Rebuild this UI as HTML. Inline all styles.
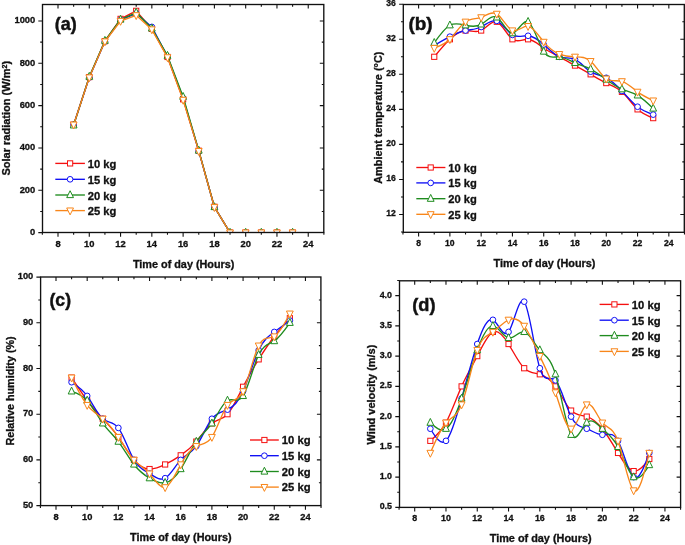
<!DOCTYPE html>
<html><head><meta charset="utf-8"><title>Chart</title><style>html,body{margin:0;padding:0;background:#fff;width:685px;height:545px;overflow:hidden}svg{display:block;will-change:transform}text{font-family:"Liberation Sans",sans-serif;font-weight:bold;stroke:#111;stroke-width:0.3px}</style></head><body>
<svg width="685" height="545" viewBox="0 0 685 545" font-family='"Liberation Sans", sans-serif' font-weight="bold" fill="#111">
<clipPath id="clipa"><rect x="42.5" y="4.5" width="281.3" height="228"/></clipPath>
<g clip-path="url(#clipa)">
<path d="M73.64,124.68 L89.28,77.07 L104.92,41.1 L120.56,18.88 L136.2,10.84 L151.84,28.83 L167.48,56.97 L183.12,99.29 L198.76,150.71 L214.4,206.78 L230.04,232.6 L245.68,232.6 L261.32,232.6 L276.96,232.6 L292.6,232.6" fill="none" stroke="#F51010" stroke-width="1.35" stroke-linejoin="round"/>
<rect x="71.04" y="122.08" width="5.2" height="5.2" fill="#fff" stroke="#F51010" stroke-width="1.0"/>
<rect x="86.68" y="74.47" width="5.2" height="5.2" fill="#fff" stroke="#F51010" stroke-width="1.0"/>
<rect x="102.32" y="38.5" width="5.2" height="5.2" fill="#fff" stroke="#F51010" stroke-width="1.0"/>
<rect x="117.96" y="16.28" width="5.2" height="5.2" fill="#fff" stroke="#F51010" stroke-width="1.0"/>
<rect x="133.6" y="8.24" width="5.2" height="5.2" fill="#fff" stroke="#F51010" stroke-width="1.0"/>
<rect x="149.24" y="26.23" width="5.2" height="5.2" fill="#fff" stroke="#F51010" stroke-width="1.0"/>
<rect x="164.88" y="54.37" width="5.2" height="5.2" fill="#fff" stroke="#F51010" stroke-width="1.0"/>
<rect x="180.52" y="96.69" width="5.2" height="5.2" fill="#fff" stroke="#F51010" stroke-width="1.0"/>
<rect x="196.16" y="148.11" width="5.2" height="5.2" fill="#fff" stroke="#F51010" stroke-width="1.0"/>
<rect x="211.8" y="204.18" width="5.2" height="5.2" fill="#fff" stroke="#F51010" stroke-width="1.0"/>
<rect x="227.44" y="230" width="5.2" height="5.2" fill="#fff" stroke="#F51010" stroke-width="1.0"/>
<rect x="243.08" y="230" width="5.2" height="5.2" fill="#fff" stroke="#F51010" stroke-width="1.0"/>
<rect x="258.72" y="230" width="5.2" height="5.2" fill="#fff" stroke="#F51010" stroke-width="1.0"/>
<rect x="274.36" y="230" width="5.2" height="5.2" fill="#fff" stroke="#F51010" stroke-width="1.0"/>
<rect x="290" y="230" width="5.2" height="5.2" fill="#fff" stroke="#F51010" stroke-width="1.0"/>
<path d="M73.64,124.68 L89.28,77.5 L104.92,41.53 L120.56,19.94 L136.2,13.59 L151.84,26.92 L167.48,56.55 L183.12,98.23 L198.76,151.13 L214.4,207.21 L230.04,232.6 L245.68,232.6 L261.32,232.6 L276.96,232.6 L292.6,232.6" fill="none" stroke="#1010F5" stroke-width="1.35" stroke-linejoin="round"/>
<circle cx="73.64" cy="124.68" r="2.85" fill="#fff" stroke="#1010F5" stroke-width="1.0"/>
<circle cx="89.28" cy="77.5" r="2.85" fill="#fff" stroke="#1010F5" stroke-width="1.0"/>
<circle cx="104.92" cy="41.53" r="2.85" fill="#fff" stroke="#1010F5" stroke-width="1.0"/>
<circle cx="120.56" cy="19.94" r="2.85" fill="#fff" stroke="#1010F5" stroke-width="1.0"/>
<circle cx="136.2" cy="13.59" r="2.85" fill="#fff" stroke="#1010F5" stroke-width="1.0"/>
<circle cx="151.84" cy="26.92" r="2.85" fill="#fff" stroke="#1010F5" stroke-width="1.0"/>
<circle cx="167.48" cy="56.55" r="2.85" fill="#fff" stroke="#1010F5" stroke-width="1.0"/>
<circle cx="183.12" cy="98.23" r="2.85" fill="#fff" stroke="#1010F5" stroke-width="1.0"/>
<circle cx="198.76" cy="151.13" r="2.85" fill="#fff" stroke="#1010F5" stroke-width="1.0"/>
<circle cx="214.4" cy="207.21" r="2.85" fill="#fff" stroke="#1010F5" stroke-width="1.0"/>
<circle cx="230.04" cy="232.6" r="2.85" fill="#fff" stroke="#1010F5" stroke-width="1.0"/>
<circle cx="245.68" cy="232.6" r="2.85" fill="#fff" stroke="#1010F5" stroke-width="1.0"/>
<circle cx="261.32" cy="232.6" r="2.85" fill="#fff" stroke="#1010F5" stroke-width="1.0"/>
<circle cx="276.96" cy="232.6" r="2.85" fill="#fff" stroke="#1010F5" stroke-width="1.0"/>
<circle cx="292.6" cy="232.6" r="2.85" fill="#fff" stroke="#1010F5" stroke-width="1.0"/>
<path d="M73.64,125.32 L89.28,76.65 L104.92,40.68 L120.56,19.52 L136.2,12.54 L151.84,28.41 L167.48,55.7 L183.12,96.75 L198.76,150.5 L214.4,207 L230.04,232.6 L245.68,232.6 L261.32,232.6 L276.96,232.6 L292.6,232.6" fill="none" stroke="#1F8C1F" stroke-width="1.35" stroke-linejoin="round"/>
<polygon points="73.64,121.04 77.04,127.94 70.24,127.94" fill="#fff" stroke="#1F8C1F" stroke-width="1.0" stroke-linejoin="miter"/>
<polygon points="89.28,72.37 92.68,79.27 85.88,79.27" fill="#fff" stroke="#1F8C1F" stroke-width="1.0" stroke-linejoin="miter"/>
<polygon points="104.92,36.4 108.32,43.3 101.52,43.3" fill="#fff" stroke="#1F8C1F" stroke-width="1.0" stroke-linejoin="miter"/>
<polygon points="120.56,15.24 123.96,22.14 117.16,22.14" fill="#fff" stroke="#1F8C1F" stroke-width="1.0" stroke-linejoin="miter"/>
<polygon points="136.2,8.26 139.6,15.16 132.8,15.16" fill="#fff" stroke="#1F8C1F" stroke-width="1.0" stroke-linejoin="miter"/>
<polygon points="151.84,24.13 155.24,31.03 148.44,31.03" fill="#fff" stroke="#1F8C1F" stroke-width="1.0" stroke-linejoin="miter"/>
<polygon points="167.48,51.42 170.88,58.32 164.08,58.32" fill="#fff" stroke="#1F8C1F" stroke-width="1.0" stroke-linejoin="miter"/>
<polygon points="183.12,92.47 186.52,99.37 179.72,99.37" fill="#fff" stroke="#1F8C1F" stroke-width="1.0" stroke-linejoin="miter"/>
<polygon points="198.76,146.22 202.16,153.12 195.36,153.12" fill="#fff" stroke="#1F8C1F" stroke-width="1.0" stroke-linejoin="miter"/>
<polygon points="214.4,202.72 217.8,209.62 211,209.62" fill="#fff" stroke="#1F8C1F" stroke-width="1.0" stroke-linejoin="miter"/>
<polygon points="230.04,228.32 233.44,235.22 226.64,235.22" fill="#fff" stroke="#1F8C1F" stroke-width="1.0" stroke-linejoin="miter"/>
<polygon points="245.68,228.32 249.08,235.22 242.28,235.22" fill="#fff" stroke="#1F8C1F" stroke-width="1.0" stroke-linejoin="miter"/>
<polygon points="261.32,228.32 264.72,235.22 257.92,235.22" fill="#fff" stroke="#1F8C1F" stroke-width="1.0" stroke-linejoin="miter"/>
<polygon points="276.96,228.32 280.36,235.22 273.56,235.22" fill="#fff" stroke="#1F8C1F" stroke-width="1.0" stroke-linejoin="miter"/>
<polygon points="292.6,228.32 296,235.22 289.2,235.22" fill="#fff" stroke="#1F8C1F" stroke-width="1.0" stroke-linejoin="miter"/>
<path d="M73.64,124.68 L89.28,77.5 L104.92,41.53 L120.56,21 L136.2,15.29 L151.84,29.46 L167.48,57.4 L183.12,99.93 L198.76,151.13 L214.4,207.21 L230.04,232.6 L245.68,232.6 L261.32,232.6 L276.96,232.6 L292.6,232.6" fill="none" stroke="#F8861A" stroke-width="1.35" stroke-linejoin="round"/>
<polygon points="73.64,128.96 77.04,122.06 70.24,122.06" fill="#fff" stroke="#F8861A" stroke-width="1.0" stroke-linejoin="miter"/>
<polygon points="89.28,81.78 92.68,74.88 85.88,74.88" fill="#fff" stroke="#F8861A" stroke-width="1.0" stroke-linejoin="miter"/>
<polygon points="104.92,45.8 108.32,38.9 101.52,38.9" fill="#fff" stroke="#F8861A" stroke-width="1.0" stroke-linejoin="miter"/>
<polygon points="120.56,25.28 123.96,18.38 117.16,18.38" fill="#fff" stroke="#F8861A" stroke-width="1.0" stroke-linejoin="miter"/>
<polygon points="136.2,19.56 139.6,12.66 132.8,12.66" fill="#fff" stroke="#F8861A" stroke-width="1.0" stroke-linejoin="miter"/>
<polygon points="151.84,33.74 155.24,26.84 148.44,26.84" fill="#fff" stroke="#F8861A" stroke-width="1.0" stroke-linejoin="miter"/>
<polygon points="167.48,61.67 170.88,54.77 164.08,54.77" fill="#fff" stroke="#F8861A" stroke-width="1.0" stroke-linejoin="miter"/>
<polygon points="183.12,104.2 186.52,97.3 179.72,97.3" fill="#fff" stroke="#F8861A" stroke-width="1.0" stroke-linejoin="miter"/>
<polygon points="198.76,155.41 202.16,148.51 195.36,148.51" fill="#fff" stroke="#F8861A" stroke-width="1.0" stroke-linejoin="miter"/>
<polygon points="214.4,211.49 217.8,204.59 211,204.59" fill="#fff" stroke="#F8861A" stroke-width="1.0" stroke-linejoin="miter"/>
<polygon points="230.04,236.88 233.44,229.98 226.64,229.98" fill="#fff" stroke="#F8861A" stroke-width="1.0" stroke-linejoin="miter"/>
<polygon points="245.68,236.88 249.08,229.98 242.28,229.98" fill="#fff" stroke="#F8861A" stroke-width="1.0" stroke-linejoin="miter"/>
<polygon points="261.32,236.88 264.72,229.98 257.92,229.98" fill="#fff" stroke="#F8861A" stroke-width="1.0" stroke-linejoin="miter"/>
<polygon points="276.96,236.88 280.36,229.98 273.56,229.98" fill="#fff" stroke="#F8861A" stroke-width="1.0" stroke-linejoin="miter"/>
<polygon points="292.6,236.88 296,229.98 289.2,229.98" fill="#fff" stroke="#F8861A" stroke-width="1.0" stroke-linejoin="miter"/>
</g>
<rect x="42.5" y="4.5" width="281.3" height="228" fill="none" stroke="#111" stroke-width="1.35"/>
<path d="M42.36,232.5 v2.3 M58,232.5 v4.2 M58,4.5 v4 M73.64,232.5 v2.3 M73.64,4.5 v2.2 M89.28,232.5 v4.2 M89.28,4.5 v4 M104.92,232.5 v2.3 M104.92,4.5 v2.2 M120.56,232.5 v4.2 M120.56,4.5 v4 M136.2,232.5 v2.3 M136.2,4.5 v2.2 M151.84,232.5 v4.2 M151.84,4.5 v4 M167.48,232.5 v2.3 M167.48,4.5 v2.2 M183.12,232.5 v4.2 M183.12,4.5 v4 M198.76,232.5 v2.3 M198.76,4.5 v2.2 M214.4,232.5 v4.2 M214.4,4.5 v4 M230.04,232.5 v2.3 M230.04,4.5 v2.2 M245.68,232.5 v4.2 M245.68,4.5 v4 M261.32,232.5 v2.3 M261.32,4.5 v2.2 M276.96,232.5 v4.2 M276.96,4.5 v4 M292.6,232.5 v2.3 M292.6,4.5 v2.2 M308.24,232.5 v4.2 M308.24,4.5 v4 M323.88,232.5 v2.3 M42.5,232.6 h-4.2 M42.5,211.44 h-2.3 M323.8,211.44 h-2 M42.5,190.28 h-4.2 M323.8,190.28 h-4 M42.5,169.12 h-2.3 M323.8,169.12 h-2 M42.5,147.96 h-4.2 M323.8,147.96 h-4 M42.5,126.8 h-2.3 M323.8,126.8 h-2 M42.5,105.64 h-4.2 M323.8,105.64 h-4 M42.5,84.48 h-2.3 M323.8,84.48 h-2 M42.5,63.32 h-4.2 M323.8,63.32 h-4 M42.5,42.16 h-2.3 M323.8,42.16 h-2 M42.5,21 h-4.2 M323.8,21 h-4" stroke="#111" stroke-width="1.1" fill="none"/>
<text x="58" y="246.6" font-size="9.4" text-anchor="middle">8</text>
<text x="89.28" y="246.6" font-size="9.4" text-anchor="middle">10</text>
<text x="120.56" y="246.6" font-size="9.4" text-anchor="middle">12</text>
<text x="151.84" y="246.6" font-size="9.4" text-anchor="middle">14</text>
<text x="183.12" y="246.6" font-size="9.4" text-anchor="middle">16</text>
<text x="214.4" y="246.6" font-size="9.4" text-anchor="middle">18</text>
<text x="245.68" y="246.6" font-size="9.4" text-anchor="middle">20</text>
<text x="276.96" y="246.6" font-size="9.4" text-anchor="middle">22</text>
<text x="308.24" y="246.6" font-size="9.4" text-anchor="middle">24</text>
<text x="35.3" y="234.84" font-size="9.4" text-anchor="end">0</text>
<text x="35.3" y="192.52" font-size="9.4" text-anchor="end">200</text>
<text x="35.3" y="150.2" font-size="9.4" text-anchor="end">400</text>
<text x="35.3" y="107.88" font-size="9.4" text-anchor="end">600</text>
<text x="35.3" y="65.56" font-size="9.4" text-anchor="end">800</text>
<text x="35.3" y="23.24" font-size="9.4" text-anchor="end">1000</text>
<text x="132.9" y="267.5" font-size="10.1" textLength="101.6" lengthAdjust="spacingAndGlyphs">Time of day (Hours)</text>
<text transform="translate(10.1,174.9) rotate(-90)" x="-0.6" y="0" font-size="10.8" textLength="114.6" lengthAdjust="spacingAndGlyphs">Solar radiation (W/m<tspan dy="-3.5" font-size="7">2</tspan><tspan dy="3.5">)</tspan></text>
<text x="54.8" y="30" font-size="18.2" style="stroke-width:0.45px" textLength="22" lengthAdjust="spacingAndGlyphs">(a)</text>
<path d="M55.3,163.4 H84.9" stroke="#F51010" stroke-width="1.35"/>
<rect x="67.5" y="160.8" width="5.2" height="5.2" fill="#fff" stroke="#F51010" stroke-width="1.0"/>
<text x="87.8" y="167.9" font-size="10.8" textLength="28.6" lengthAdjust="spacingAndGlyphs">10 kg</text>
<path d="M55.3,179.3 H84.9" stroke="#1010F5" stroke-width="1.35"/>
<circle cx="70.1" cy="179.3" r="2.85" fill="#fff" stroke="#1010F5" stroke-width="1.0"/>
<text x="87.8" y="183.8" font-size="10.8" textLength="28.6" lengthAdjust="spacingAndGlyphs">15 kg</text>
<path d="M55.3,195 H84.9" stroke="#1F8C1F" stroke-width="1.35"/>
<polygon points="70.1,190.72 73.5,197.62 66.7,197.62" fill="#fff" stroke="#1F8C1F" stroke-width="1.0" stroke-linejoin="miter"/>
<text x="87.8" y="199.5" font-size="10.8" textLength="28.6" lengthAdjust="spacingAndGlyphs">20 kg</text>
<path d="M55.3,210.6 H84.9" stroke="#F8861A" stroke-width="1.35"/>
<polygon points="70.1,214.88 73.5,207.98 66.7,207.98" fill="#fff" stroke="#F8861A" stroke-width="1.0" stroke-linejoin="miter"/>
<text x="87.8" y="215.1" font-size="10.8" textLength="28.6" lengthAdjust="spacingAndGlyphs">25 kg</text>
<clipPath id="clipb"><rect x="403.3" y="4.5" width="281" height="227.8"/></clipPath>
<g clip-path="url(#clipb)">
<path d="M434.24,56.8 C439.45,50.5 444.67,44.2 449.88,39.28 C455.09,34.36 460.31,30.84 465.52,30.52 C470.73,30.2 475.95,33.1 481.16,30.52 C486.37,27.94 491.59,19.88 496.8,21.76 C502.01,23.64 507.23,35.45 512.44,39.28 C517.65,43.11 522.87,38.95 528.08,39.28 C533.29,39.61 538.51,44.43 543.72,48.04 C548.93,51.65 554.15,54.06 559.36,56.8 C564.57,59.54 569.79,62.63 575,65.56 C580.21,68.49 585.43,71.28 590.64,74.32 C595.85,77.36 601.07,80.64 606.28,83.08 C611.49,85.52 616.71,87.11 621.92,91.84 C627.13,96.57 632.35,104.46 637.56,109.36 C642.77,114.26 647.99,116.19 653.2,118.12" fill="none" stroke="#F51010" stroke-width="1.35" stroke-linejoin="round"/>
<rect x="431.64" y="54.2" width="5.2" height="5.2" fill="#fff" stroke="#F51010" stroke-width="1.0"/>
<rect x="447.28" y="36.68" width="5.2" height="5.2" fill="#fff" stroke="#F51010" stroke-width="1.0"/>
<rect x="462.92" y="27.92" width="5.2" height="5.2" fill="#fff" stroke="#F51010" stroke-width="1.0"/>
<rect x="478.56" y="27.92" width="5.2" height="5.2" fill="#fff" stroke="#F51010" stroke-width="1.0"/>
<rect x="494.2" y="19.16" width="5.2" height="5.2" fill="#fff" stroke="#F51010" stroke-width="1.0"/>
<rect x="509.84" y="36.68" width="5.2" height="5.2" fill="#fff" stroke="#F51010" stroke-width="1.0"/>
<rect x="525.48" y="36.68" width="5.2" height="5.2" fill="#fff" stroke="#F51010" stroke-width="1.0"/>
<rect x="541.12" y="45.44" width="5.2" height="5.2" fill="#fff" stroke="#F51010" stroke-width="1.0"/>
<rect x="556.76" y="54.2" width="5.2" height="5.2" fill="#fff" stroke="#F51010" stroke-width="1.0"/>
<rect x="572.4" y="62.96" width="5.2" height="5.2" fill="#fff" stroke="#F51010" stroke-width="1.0"/>
<rect x="588.04" y="71.72" width="5.2" height="5.2" fill="#fff" stroke="#F51010" stroke-width="1.0"/>
<rect x="603.68" y="80.48" width="5.2" height="5.2" fill="#fff" stroke="#F51010" stroke-width="1.0"/>
<rect x="619.32" y="89.24" width="5.2" height="5.2" fill="#fff" stroke="#F51010" stroke-width="1.0"/>
<rect x="634.96" y="106.76" width="5.2" height="5.2" fill="#fff" stroke="#F51010" stroke-width="1.0"/>
<rect x="650.6" y="115.52" width="5.2" height="5.2" fill="#fff" stroke="#F51010" stroke-width="1.0"/>
<path d="M434.24,45.41 C439.45,42.38 444.67,39.34 449.88,36.65 C455.09,33.96 460.31,31.61 465.52,30.52 C470.73,29.43 475.95,29.61 481.16,27.02 C486.37,24.42 491.59,19.05 496.8,20.88 C502.01,22.72 507.23,31.75 512.44,34.9 C517.65,38.05 522.87,35.32 528.08,35.78 C533.29,36.23 538.51,39.89 543.72,44.54 C548.93,49.19 554.15,54.84 559.36,56.8 C564.57,58.76 569.79,57.03 575,59.43 C580.21,61.82 585.43,68.34 590.64,71.69 C595.85,75.05 601.07,75.24 606.28,77.82 C611.49,80.41 616.71,85.39 621.92,90.96 C627.13,96.53 632.35,102.69 637.56,106.73 C642.77,110.77 647.99,112.69 653.2,114.62" fill="none" stroke="#1010F5" stroke-width="1.35" stroke-linejoin="round"/>
<circle cx="434.24" cy="45.41" r="2.85" fill="#fff" stroke="#1010F5" stroke-width="1.0"/>
<circle cx="449.88" cy="36.65" r="2.85" fill="#fff" stroke="#1010F5" stroke-width="1.0"/>
<circle cx="465.52" cy="30.52" r="2.85" fill="#fff" stroke="#1010F5" stroke-width="1.0"/>
<circle cx="481.16" cy="27.02" r="2.85" fill="#fff" stroke="#1010F5" stroke-width="1.0"/>
<circle cx="496.8" cy="20.88" r="2.85" fill="#fff" stroke="#1010F5" stroke-width="1.0"/>
<circle cx="512.44" cy="34.9" r="2.85" fill="#fff" stroke="#1010F5" stroke-width="1.0"/>
<circle cx="528.08" cy="35.78" r="2.85" fill="#fff" stroke="#1010F5" stroke-width="1.0"/>
<circle cx="543.72" cy="44.54" r="2.85" fill="#fff" stroke="#1010F5" stroke-width="1.0"/>
<circle cx="559.36" cy="56.8" r="2.85" fill="#fff" stroke="#1010F5" stroke-width="1.0"/>
<circle cx="575" cy="59.43" r="2.85" fill="#fff" stroke="#1010F5" stroke-width="1.0"/>
<circle cx="590.64" cy="71.69" r="2.85" fill="#fff" stroke="#1010F5" stroke-width="1.0"/>
<circle cx="606.28" cy="77.82" r="2.85" fill="#fff" stroke="#1010F5" stroke-width="1.0"/>
<circle cx="621.92" cy="90.96" r="2.85" fill="#fff" stroke="#1010F5" stroke-width="1.0"/>
<circle cx="637.56" cy="106.73" r="2.85" fill="#fff" stroke="#1010F5" stroke-width="1.0"/>
<circle cx="653.2" cy="114.62" r="2.85" fill="#fff" stroke="#1010F5" stroke-width="1.0"/>
<path d="M434.24,42.78 C439.45,35.46 444.67,28.13 449.88,25.26 C455.09,22.4 460.31,24.01 465.52,25.26 C470.73,26.52 475.95,27.43 481.16,24.39 C486.37,21.34 491.59,14.35 496.8,17.38 C502.01,20.41 507.23,33.48 512.44,33.15 C517.65,32.82 522.87,19.08 528.08,21.76 C533.29,24.44 538.51,43.52 543.72,51.54 C548.93,59.57 554.15,56.55 559.36,56.8 C564.57,57.05 569.79,60.58 575,62.93 C580.21,65.28 585.43,66.45 590.64,69.06 C595.85,71.68 601.07,75.75 606.28,79.58 C611.49,83.4 616.71,86.97 621.92,89.21 C627.13,91.45 632.35,92.35 637.56,95.34 C642.77,98.33 647.99,103.41 653.2,108.48" fill="none" stroke="#1F8C1F" stroke-width="1.35" stroke-linejoin="round"/>
<polygon points="434.24,38.51 437.64,45.41 430.84,45.41" fill="#fff" stroke="#1F8C1F" stroke-width="1.0" stroke-linejoin="miter"/>
<polygon points="449.88,20.99 453.28,27.89 446.48,27.89" fill="#fff" stroke="#1F8C1F" stroke-width="1.0" stroke-linejoin="miter"/>
<polygon points="465.52,20.99 468.92,27.89 462.12,27.89" fill="#fff" stroke="#1F8C1F" stroke-width="1.0" stroke-linejoin="miter"/>
<polygon points="481.16,20.11 484.56,27.01 477.76,27.01" fill="#fff" stroke="#1F8C1F" stroke-width="1.0" stroke-linejoin="miter"/>
<polygon points="496.8,13.1 500.2,20 493.4,20" fill="#fff" stroke="#1F8C1F" stroke-width="1.0" stroke-linejoin="miter"/>
<polygon points="512.44,28.87 515.84,35.77 509.04,35.77" fill="#fff" stroke="#1F8C1F" stroke-width="1.0" stroke-linejoin="miter"/>
<polygon points="528.08,17.48 531.48,24.38 524.68,24.38" fill="#fff" stroke="#1F8C1F" stroke-width="1.0" stroke-linejoin="miter"/>
<polygon points="543.72,47.27 547.12,54.17 540.32,54.17" fill="#fff" stroke="#1F8C1F" stroke-width="1.0" stroke-linejoin="miter"/>
<polygon points="559.36,52.52 562.76,59.42 555.96,59.42" fill="#fff" stroke="#1F8C1F" stroke-width="1.0" stroke-linejoin="miter"/>
<polygon points="575,58.65 578.4,65.55 571.6,65.55" fill="#fff" stroke="#1F8C1F" stroke-width="1.0" stroke-linejoin="miter"/>
<polygon points="590.64,64.79 594.04,71.69 587.24,71.69" fill="#fff" stroke="#1F8C1F" stroke-width="1.0" stroke-linejoin="miter"/>
<polygon points="606.28,75.3 609.68,82.2 602.88,82.2" fill="#fff" stroke="#1F8C1F" stroke-width="1.0" stroke-linejoin="miter"/>
<polygon points="621.92,84.93 625.32,91.83 618.52,91.83" fill="#fff" stroke="#1F8C1F" stroke-width="1.0" stroke-linejoin="miter"/>
<polygon points="637.56,91.07 640.96,97.97 634.16,97.97" fill="#fff" stroke="#1F8C1F" stroke-width="1.0" stroke-linejoin="miter"/>
<polygon points="653.2,104.21 656.6,111.11 649.8,111.11" fill="#fff" stroke="#1F8C1F" stroke-width="1.0" stroke-linejoin="miter"/>
<path d="M434.24,48.04 C439.45,46.26 444.67,44.48 449.88,39.28 C455.09,34.08 460.31,25.47 465.52,21.76 C470.73,18.05 475.95,19.23 481.16,17.38 C486.37,15.53 491.59,10.65 496.8,13.88 C502.01,17.11 507.23,28.45 512.44,30.52 C517.65,32.59 522.87,25.38 528.08,26.14 C533.29,26.9 538.51,35.62 543.72,41.91 C548.93,48.19 554.15,52.04 559.36,54.17 C564.57,56.3 569.79,56.72 575,56.8 C580.21,56.88 585.43,56.61 590.64,61.18 C595.85,65.75 601.07,75.17 606.28,78.7 C611.49,82.23 616.71,79.89 621.92,81.33 C627.13,82.77 632.35,88 637.56,91.84 C642.77,95.68 647.99,98.14 653.2,100.6" fill="none" stroke="#F8861A" stroke-width="1.35" stroke-linejoin="round"/>
<polygon points="434.24,52.32 437.64,45.42 430.84,45.42" fill="#fff" stroke="#F8861A" stroke-width="1.0" stroke-linejoin="miter"/>
<polygon points="449.88,43.56 453.28,36.66 446.48,36.66" fill="#fff" stroke="#F8861A" stroke-width="1.0" stroke-linejoin="miter"/>
<polygon points="465.52,26.04 468.92,19.14 462.12,19.14" fill="#fff" stroke="#F8861A" stroke-width="1.0" stroke-linejoin="miter"/>
<polygon points="481.16,21.66 484.56,14.76 477.76,14.76" fill="#fff" stroke="#F8861A" stroke-width="1.0" stroke-linejoin="miter"/>
<polygon points="496.8,18.15 500.2,11.25 493.4,11.25" fill="#fff" stroke="#F8861A" stroke-width="1.0" stroke-linejoin="miter"/>
<polygon points="512.44,34.8 515.84,27.9 509.04,27.9" fill="#fff" stroke="#F8861A" stroke-width="1.0" stroke-linejoin="miter"/>
<polygon points="528.08,30.42 531.48,23.52 524.68,23.52" fill="#fff" stroke="#F8861A" stroke-width="1.0" stroke-linejoin="miter"/>
<polygon points="543.72,46.19 547.12,39.29 540.32,39.29" fill="#fff" stroke="#F8861A" stroke-width="1.0" stroke-linejoin="miter"/>
<polygon points="559.36,58.45 562.76,51.55 555.96,51.55" fill="#fff" stroke="#F8861A" stroke-width="1.0" stroke-linejoin="miter"/>
<polygon points="575,61.08 578.4,54.18 571.6,54.18" fill="#fff" stroke="#F8861A" stroke-width="1.0" stroke-linejoin="miter"/>
<polygon points="590.64,65.46 594.04,58.56 587.24,58.56" fill="#fff" stroke="#F8861A" stroke-width="1.0" stroke-linejoin="miter"/>
<polygon points="606.28,82.98 609.68,76.08 602.88,76.08" fill="#fff" stroke="#F8861A" stroke-width="1.0" stroke-linejoin="miter"/>
<polygon points="621.92,85.61 625.32,78.71 618.52,78.71" fill="#fff" stroke="#F8861A" stroke-width="1.0" stroke-linejoin="miter"/>
<polygon points="637.56,96.12 640.96,89.22 634.16,89.22" fill="#fff" stroke="#F8861A" stroke-width="1.0" stroke-linejoin="miter"/>
<polygon points="653.2,104.88 656.6,97.98 649.8,97.98" fill="#fff" stroke="#F8861A" stroke-width="1.0" stroke-linejoin="miter"/>
</g>
<rect x="403.3" y="4.5" width="281" height="227.8" fill="none" stroke="#111" stroke-width="1.35"/>
<path d="M402.96,232.3 v2.3 M418.6,232.3 v4.2 M418.6,4.5 v4 M434.24,232.3 v2.3 M434.24,4.5 v2.2 M449.88,232.3 v4.2 M449.88,4.5 v4 M465.52,232.3 v2.3 M465.52,4.5 v2.2 M481.16,232.3 v4.2 M481.16,4.5 v4 M496.8,232.3 v2.3 M496.8,4.5 v2.2 M512.44,232.3 v4.2 M512.44,4.5 v4 M528.08,232.3 v2.3 M528.08,4.5 v2.2 M543.72,232.3 v4.2 M543.72,4.5 v4 M559.36,232.3 v2.3 M559.36,4.5 v2.2 M575,232.3 v4.2 M575,4.5 v4 M590.64,232.3 v2.3 M590.64,4.5 v2.2 M606.28,232.3 v4.2 M606.28,4.5 v4 M621.92,232.3 v2.3 M621.92,4.5 v2.2 M637.56,232.3 v4.2 M637.56,4.5 v4 M653.2,232.3 v2.3 M653.2,4.5 v2.2 M668.84,232.3 v4.2 M668.84,4.5 v4 M684.48,232.3 v2.3 M403.3,232 h-2.3 M403.3,214.48 h-4.2 M684.3,214.48 h-4 M403.3,196.96 h-2.3 M684.3,196.96 h-2 M403.3,179.44 h-4.2 M684.3,179.44 h-4 M403.3,161.92 h-2.3 M684.3,161.92 h-2 M403.3,144.4 h-4.2 M684.3,144.4 h-4 M403.3,126.88 h-2.3 M684.3,126.88 h-2 M403.3,109.36 h-4.2 M684.3,109.36 h-4 M403.3,91.84 h-2.3 M684.3,91.84 h-2 M403.3,74.32 h-4.2 M684.3,74.32 h-4 M403.3,56.8 h-2.3 M684.3,56.8 h-2 M403.3,39.28 h-4.2 M684.3,39.28 h-4 M403.3,21.76 h-2.3 M684.3,21.76 h-2 M403.3,4.24 h-4.2" stroke="#111" stroke-width="1.1" fill="none"/>
<text x="418.6" y="246" font-size="8.6" text-anchor="middle">8</text>
<text x="449.88" y="246" font-size="8.6" text-anchor="middle">10</text>
<text x="481.16" y="246" font-size="8.6" text-anchor="middle">12</text>
<text x="512.44" y="246" font-size="8.6" text-anchor="middle">14</text>
<text x="543.72" y="246" font-size="8.6" text-anchor="middle">16</text>
<text x="575" y="246" font-size="8.6" text-anchor="middle">18</text>
<text x="606.28" y="246" font-size="8.6" text-anchor="middle">20</text>
<text x="637.56" y="246" font-size="8.6" text-anchor="middle">22</text>
<text x="668.84" y="246" font-size="8.6" text-anchor="middle">24</text>
<text x="395.8" y="216.43" font-size="8.6" text-anchor="end">12</text>
<text x="395.8" y="181.39" font-size="8.6" text-anchor="end">16</text>
<text x="395.8" y="146.35" font-size="8.6" text-anchor="end">20</text>
<text x="395.8" y="111.31" font-size="8.6" text-anchor="end">24</text>
<text x="395.8" y="76.27" font-size="8.6" text-anchor="end">28</text>
<text x="395.8" y="41.23" font-size="8.6" text-anchor="end">32</text>
<text x="395.8" y="6.19" font-size="8.6" text-anchor="end">36</text>
<text x="493.6" y="266.8" font-size="10.1" textLength="101.9" lengthAdjust="spacingAndGlyphs">Time of day (Hours)</text>
<text transform="translate(381.7,183.2) rotate(-90)" x="-0.6" y="0" font-size="10.8" textLength="132.2" lengthAdjust="spacingAndGlyphs">Ambient temperature (°C)</text>
<text x="408.4" y="29.8" font-size="18.2" style="stroke-width:0.45px" textLength="24.2" lengthAdjust="spacingAndGlyphs">(b)</text>
<path d="M416.3,167.5 H445.4" stroke="#F51010" stroke-width="1.35"/>
<rect x="428.1" y="164.9" width="5.2" height="5.2" fill="#fff" stroke="#F51010" stroke-width="1.0"/>
<text x="448.3" y="171.8" font-size="10.8" textLength="28.5" lengthAdjust="spacingAndGlyphs">10 kg</text>
<path d="M416.3,182.9 H445.4" stroke="#1010F5" stroke-width="1.35"/>
<circle cx="430.7" cy="182.9" r="2.85" fill="#fff" stroke="#1010F5" stroke-width="1.0"/>
<text x="448.3" y="187.2" font-size="10.8" textLength="28.5" lengthAdjust="spacingAndGlyphs">15 kg</text>
<path d="M416.3,198.7 H445.4" stroke="#1F8C1F" stroke-width="1.35"/>
<polygon points="430.7,194.42 434.1,201.32 427.3,201.32" fill="#fff" stroke="#1F8C1F" stroke-width="1.0" stroke-linejoin="miter"/>
<text x="448.3" y="203" font-size="10.8" textLength="28.5" lengthAdjust="spacingAndGlyphs">20 kg</text>
<path d="M416.3,214.3 H445.4" stroke="#F8861A" stroke-width="1.35"/>
<polygon points="430.7,218.58 434.1,211.68 427.3,211.68" fill="#fff" stroke="#F8861A" stroke-width="1.0" stroke-linejoin="miter"/>
<text x="448.3" y="218.6" font-size="10.8" textLength="28.5" lengthAdjust="spacingAndGlyphs">25 kg</text>
<clipPath id="clipc"><rect x="40.6" y="277" width="280.3" height="228.6"/></clipPath>
<g clip-path="url(#clipc)">
<path d="M71.59,377.64 C76.79,385.62 81.98,393.6 87.18,400.49 C92.38,407.38 97.57,413.2 102.77,418.77 C107.97,424.34 113.16,429.68 118.36,437.05 C123.56,444.42 128.75,453.81 133.95,459.9 C139.15,465.99 144.34,468.77 149.54,469.04 C154.74,469.31 159.93,467.08 165.13,464.47 C170.33,461.86 175.52,458.85 180.72,455.33 C185.92,451.81 191.11,447.76 196.31,441.62 C201.51,435.48 206.7,427.26 211.9,423.34 C217.1,419.42 222.29,419.8 227.49,414.2 C232.69,408.6 237.88,397.01 243.08,386.78 C248.28,376.55 253.47,367.68 258.67,359.36 C263.87,351.04 269.06,343.27 274.26,336.51 C279.46,329.75 284.65,323.99 289.85,318.23" fill="none" stroke="#F51010" stroke-width="1.35" stroke-linejoin="round"/>
<rect x="68.99" y="375.04" width="5.2" height="5.2" fill="#fff" stroke="#F51010" stroke-width="1.0"/>
<rect x="84.58" y="397.89" width="5.2" height="5.2" fill="#fff" stroke="#F51010" stroke-width="1.0"/>
<rect x="100.17" y="416.17" width="5.2" height="5.2" fill="#fff" stroke="#F51010" stroke-width="1.0"/>
<rect x="115.76" y="434.45" width="5.2" height="5.2" fill="#fff" stroke="#F51010" stroke-width="1.0"/>
<rect x="131.35" y="457.3" width="5.2" height="5.2" fill="#fff" stroke="#F51010" stroke-width="1.0"/>
<rect x="146.94" y="466.44" width="5.2" height="5.2" fill="#fff" stroke="#F51010" stroke-width="1.0"/>
<rect x="162.53" y="461.87" width="5.2" height="5.2" fill="#fff" stroke="#F51010" stroke-width="1.0"/>
<rect x="178.12" y="452.73" width="5.2" height="5.2" fill="#fff" stroke="#F51010" stroke-width="1.0"/>
<rect x="193.71" y="439.02" width="5.2" height="5.2" fill="#fff" stroke="#F51010" stroke-width="1.0"/>
<rect x="209.3" y="420.74" width="5.2" height="5.2" fill="#fff" stroke="#F51010" stroke-width="1.0"/>
<rect x="224.89" y="411.6" width="5.2" height="5.2" fill="#fff" stroke="#F51010" stroke-width="1.0"/>
<rect x="240.48" y="384.18" width="5.2" height="5.2" fill="#fff" stroke="#F51010" stroke-width="1.0"/>
<rect x="256.07" y="356.76" width="5.2" height="5.2" fill="#fff" stroke="#F51010" stroke-width="1.0"/>
<rect x="271.66" y="333.91" width="5.2" height="5.2" fill="#fff" stroke="#F51010" stroke-width="1.0"/>
<rect x="287.25" y="315.63" width="5.2" height="5.2" fill="#fff" stroke="#F51010" stroke-width="1.0"/>
<path d="M71.59,382.21 C76.79,385.46 81.98,388.71 87.18,395.92 C92.38,403.13 97.57,414.31 102.77,418.77 C107.97,423.23 113.16,420.98 118.36,427.91 C123.56,434.84 128.75,450.97 133.95,459.9 C139.15,468.83 144.34,470.57 149.54,473.61 C154.74,476.65 159.93,481 165.13,478.18 C170.33,475.36 175.52,465.39 180.72,459.9 C185.92,454.41 191.11,453.41 196.31,446.19 C201.51,438.97 206.7,425.53 211.9,418.77 C217.1,412.01 222.29,411.91 227.49,409.63 C232.69,407.35 237.88,402.87 243.08,391.35 C248.28,379.83 253.47,361.27 258.67,350.22 C263.87,339.17 269.06,335.64 274.26,331.94 C279.46,328.24 284.65,324.38 289.85,320.51" fill="none" stroke="#1010F5" stroke-width="1.35" stroke-linejoin="round"/>
<circle cx="71.59" cy="382.21" r="2.85" fill="#fff" stroke="#1010F5" stroke-width="1.0"/>
<circle cx="87.18" cy="395.92" r="2.85" fill="#fff" stroke="#1010F5" stroke-width="1.0"/>
<circle cx="102.77" cy="418.77" r="2.85" fill="#fff" stroke="#1010F5" stroke-width="1.0"/>
<circle cx="118.36" cy="427.91" r="2.85" fill="#fff" stroke="#1010F5" stroke-width="1.0"/>
<circle cx="133.95" cy="459.9" r="2.85" fill="#fff" stroke="#1010F5" stroke-width="1.0"/>
<circle cx="149.54" cy="473.61" r="2.85" fill="#fff" stroke="#1010F5" stroke-width="1.0"/>
<circle cx="165.13" cy="478.18" r="2.85" fill="#fff" stroke="#1010F5" stroke-width="1.0"/>
<circle cx="180.72" cy="459.9" r="2.85" fill="#fff" stroke="#1010F5" stroke-width="1.0"/>
<circle cx="196.31" cy="446.19" r="2.85" fill="#fff" stroke="#1010F5" stroke-width="1.0"/>
<circle cx="211.9" cy="418.77" r="2.85" fill="#fff" stroke="#1010F5" stroke-width="1.0"/>
<circle cx="227.49" cy="409.63" r="2.85" fill="#fff" stroke="#1010F5" stroke-width="1.0"/>
<circle cx="243.08" cy="391.35" r="2.85" fill="#fff" stroke="#1010F5" stroke-width="1.0"/>
<circle cx="258.67" cy="350.22" r="2.85" fill="#fff" stroke="#1010F5" stroke-width="1.0"/>
<circle cx="274.26" cy="331.94" r="2.85" fill="#fff" stroke="#1010F5" stroke-width="1.0"/>
<circle cx="289.85" cy="320.51" r="2.85" fill="#fff" stroke="#1010F5" stroke-width="1.0"/>
<path d="M71.59,391.35 C76.79,393.02 81.98,394.69 87.18,400.49 C92.38,406.29 97.57,416.22 102.77,423.34 C107.97,430.46 113.16,434.78 118.36,441.62 C123.56,448.46 128.75,457.83 133.95,464.47 C139.15,471.11 144.34,475.01 149.54,478.18 C154.74,481.35 159.93,483.79 165.13,482.75 C170.33,481.71 175.52,477.2 180.72,469.04 C185.92,460.88 191.11,449.09 196.31,441.62 C201.51,434.15 206.7,431.02 211.9,423.34 C217.1,415.66 222.29,403.43 227.49,400.49 C232.69,397.55 237.88,403.89 243.08,395.92 C248.28,387.95 253.47,365.65 258.67,354.79 C263.87,343.93 269.06,344.51 274.26,341.08 C279.46,337.65 284.65,330.23 289.85,322.8" fill="none" stroke="#1F8C1F" stroke-width="1.35" stroke-linejoin="round"/>
<polygon points="71.59,387.07 74.99,393.97 68.19,393.97" fill="#fff" stroke="#1F8C1F" stroke-width="1.0" stroke-linejoin="miter"/>
<polygon points="87.18,396.21 90.58,403.11 83.78,403.11" fill="#fff" stroke="#1F8C1F" stroke-width="1.0" stroke-linejoin="miter"/>
<polygon points="102.77,419.06 106.17,425.96 99.37,425.96" fill="#fff" stroke="#1F8C1F" stroke-width="1.0" stroke-linejoin="miter"/>
<polygon points="118.36,437.34 121.76,444.24 114.96,444.24" fill="#fff" stroke="#1F8C1F" stroke-width="1.0" stroke-linejoin="miter"/>
<polygon points="133.95,460.19 137.35,467.09 130.55,467.09" fill="#fff" stroke="#1F8C1F" stroke-width="1.0" stroke-linejoin="miter"/>
<polygon points="149.54,473.9 152.94,480.8 146.14,480.8" fill="#fff" stroke="#1F8C1F" stroke-width="1.0" stroke-linejoin="miter"/>
<polygon points="165.13,478.47 168.53,485.37 161.73,485.37" fill="#fff" stroke="#1F8C1F" stroke-width="1.0" stroke-linejoin="miter"/>
<polygon points="180.72,464.76 184.12,471.66 177.32,471.66" fill="#fff" stroke="#1F8C1F" stroke-width="1.0" stroke-linejoin="miter"/>
<polygon points="196.31,437.34 199.71,444.24 192.91,444.24" fill="#fff" stroke="#1F8C1F" stroke-width="1.0" stroke-linejoin="miter"/>
<polygon points="211.9,419.06 215.3,425.96 208.5,425.96" fill="#fff" stroke="#1F8C1F" stroke-width="1.0" stroke-linejoin="miter"/>
<polygon points="227.49,396.21 230.89,403.11 224.09,403.11" fill="#fff" stroke="#1F8C1F" stroke-width="1.0" stroke-linejoin="miter"/>
<polygon points="243.08,391.64 246.48,398.54 239.68,398.54" fill="#fff" stroke="#1F8C1F" stroke-width="1.0" stroke-linejoin="miter"/>
<polygon points="258.67,350.51 262.07,357.41 255.27,357.41" fill="#fff" stroke="#1F8C1F" stroke-width="1.0" stroke-linejoin="miter"/>
<polygon points="274.26,336.8 277.66,343.7 270.86,343.7" fill="#fff" stroke="#1F8C1F" stroke-width="1.0" stroke-linejoin="miter"/>
<polygon points="289.85,318.52 293.25,325.42 286.45,325.42" fill="#fff" stroke="#1F8C1F" stroke-width="1.0" stroke-linejoin="miter"/>
<path d="M71.59,377.64 C76.79,388.06 81.98,398.49 87.18,405.06 C92.38,411.63 97.57,414.35 102.77,418.77 C107.97,423.19 113.16,429.31 118.36,437.05 C123.56,444.79 128.75,454.14 133.95,459.9 C139.15,465.66 144.34,467.85 149.54,473.61 C154.74,479.37 159.93,488.72 165.13,487.32 C170.33,485.92 175.52,473.77 180.72,464.47 C185.92,455.17 191.11,448.73 196.31,446.19 C201.51,443.65 206.7,445 211.9,437.05 C217.1,429.1 222.29,411.86 227.49,405.06 C232.69,398.26 237.88,401.92 243.08,391.35 C248.28,380.78 253.47,355.99 258.67,345.65 C263.87,335.31 269.06,339.43 274.26,336.51 C279.46,333.59 284.65,323.62 289.85,313.66" fill="none" stroke="#F8861A" stroke-width="1.35" stroke-linejoin="round"/>
<polygon points="71.59,381.92 74.99,375.02 68.19,375.02" fill="#fff" stroke="#F8861A" stroke-width="1.0" stroke-linejoin="miter"/>
<polygon points="87.18,409.34 90.58,402.44 83.78,402.44" fill="#fff" stroke="#F8861A" stroke-width="1.0" stroke-linejoin="miter"/>
<polygon points="102.77,423.05 106.17,416.15 99.37,416.15" fill="#fff" stroke="#F8861A" stroke-width="1.0" stroke-linejoin="miter"/>
<polygon points="118.36,441.33 121.76,434.43 114.96,434.43" fill="#fff" stroke="#F8861A" stroke-width="1.0" stroke-linejoin="miter"/>
<polygon points="133.95,464.18 137.35,457.28 130.55,457.28" fill="#fff" stroke="#F8861A" stroke-width="1.0" stroke-linejoin="miter"/>
<polygon points="149.54,477.89 152.94,470.99 146.14,470.99" fill="#fff" stroke="#F8861A" stroke-width="1.0" stroke-linejoin="miter"/>
<polygon points="165.13,491.6 168.53,484.7 161.73,484.7" fill="#fff" stroke="#F8861A" stroke-width="1.0" stroke-linejoin="miter"/>
<polygon points="180.72,468.75 184.12,461.85 177.32,461.85" fill="#fff" stroke="#F8861A" stroke-width="1.0" stroke-linejoin="miter"/>
<polygon points="196.31,450.47 199.71,443.57 192.91,443.57" fill="#fff" stroke="#F8861A" stroke-width="1.0" stroke-linejoin="miter"/>
<polygon points="211.9,441.33 215.3,434.43 208.5,434.43" fill="#fff" stroke="#F8861A" stroke-width="1.0" stroke-linejoin="miter"/>
<polygon points="227.49,409.34 230.89,402.44 224.09,402.44" fill="#fff" stroke="#F8861A" stroke-width="1.0" stroke-linejoin="miter"/>
<polygon points="243.08,395.63 246.48,388.73 239.68,388.73" fill="#fff" stroke="#F8861A" stroke-width="1.0" stroke-linejoin="miter"/>
<polygon points="258.67,349.93 262.07,343.03 255.27,343.03" fill="#fff" stroke="#F8861A" stroke-width="1.0" stroke-linejoin="miter"/>
<polygon points="274.26,340.79 277.66,333.89 270.86,333.89" fill="#fff" stroke="#F8861A" stroke-width="1.0" stroke-linejoin="miter"/>
<polygon points="289.85,317.94 293.25,311.04 286.45,311.04" fill="#fff" stroke="#F8861A" stroke-width="1.0" stroke-linejoin="miter"/>
</g>
<rect x="40.6" y="277" width="280.3" height="228.6" fill="none" stroke="#111" stroke-width="1.35"/>
<path d="M40.41,505.6 v2.3 M56,505.6 v4.2 M56,277 v4 M71.59,505.6 v2.3 M71.59,277 v2.2 M87.18,505.6 v4.2 M87.18,277 v4 M102.77,505.6 v2.3 M102.77,277 v2.2 M118.36,505.6 v4.2 M118.36,277 v4 M133.95,505.6 v2.3 M133.95,277 v2.2 M149.54,505.6 v4.2 M149.54,277 v4 M165.13,505.6 v2.3 M165.13,277 v2.2 M180.72,505.6 v4.2 M180.72,277 v4 M196.31,505.6 v2.3 M196.31,277 v2.2 M211.9,505.6 v4.2 M211.9,277 v4 M227.49,505.6 v2.3 M227.49,277 v2.2 M243.08,505.6 v4.2 M243.08,277 v4 M258.67,505.6 v2.3 M258.67,277 v2.2 M274.26,505.6 v4.2 M274.26,277 v4 M289.85,505.6 v2.3 M289.85,277 v2.2 M305.44,505.6 v4.2 M305.44,277 v4 M321.03,505.6 v2.3 M40.6,505.6 h-4.2 M40.6,482.75 h-2.3 M320.9,482.75 h-2 M40.6,459.9 h-4.2 M320.9,459.9 h-4 M40.6,437.05 h-2.3 M320.9,437.05 h-2 M40.6,414.2 h-4.2 M320.9,414.2 h-4 M40.6,391.35 h-2.3 M320.9,391.35 h-2 M40.6,368.5 h-4.2 M320.9,368.5 h-4 M40.6,345.65 h-2.3 M320.9,345.65 h-2 M40.6,322.8 h-4.2 M320.9,322.8 h-4 M40.6,299.95 h-2.3 M320.9,299.95 h-2 M40.6,277.1 h-4.2" stroke="#111" stroke-width="1.1" fill="none"/>
<text x="56" y="519.6" font-size="9.3" text-anchor="middle">8</text>
<text x="87.18" y="519.6" font-size="9.3" text-anchor="middle">10</text>
<text x="118.36" y="519.6" font-size="9.3" text-anchor="middle">12</text>
<text x="149.54" y="519.6" font-size="9.3" text-anchor="middle">14</text>
<text x="180.72" y="519.6" font-size="9.3" text-anchor="middle">16</text>
<text x="211.9" y="519.6" font-size="9.3" text-anchor="middle">18</text>
<text x="243.08" y="519.6" font-size="9.3" text-anchor="middle">20</text>
<text x="274.26" y="519.6" font-size="9.3" text-anchor="middle">22</text>
<text x="305.44" y="519.6" font-size="9.3" text-anchor="middle">24</text>
<text x="33.3" y="507.8" font-size="9.3" text-anchor="end">50</text>
<text x="33.3" y="462.1" font-size="9.3" text-anchor="end">60</text>
<text x="33.3" y="416.4" font-size="9.3" text-anchor="end">70</text>
<text x="33.3" y="370.7" font-size="9.3" text-anchor="end">80</text>
<text x="33.3" y="325" font-size="9.3" text-anchor="end">90</text>
<text x="33.3" y="279.3" font-size="9.3" text-anchor="end">100</text>
<text x="130.1" y="540.6" font-size="10.1" textLength="101.5" lengthAdjust="spacingAndGlyphs">Time of day (Hours)</text>
<text transform="translate(13.6,444.9) rotate(-90)" x="-0.6" y="0" font-size="10.8" textLength="109.2" lengthAdjust="spacingAndGlyphs">Relative humidity (%)</text>
<text x="49.5" y="306" font-size="18.2" style="stroke-width:0.45px" textLength="21.5" lengthAdjust="spacingAndGlyphs">(c)</text>
<path d="M250,440 H278.8" stroke="#F51010" stroke-width="1.35"/>
<rect x="261.8" y="437.4" width="5.2" height="5.2" fill="#fff" stroke="#F51010" stroke-width="1.0"/>
<text x="281.8" y="444.2" font-size="10.8" textLength="28.7" lengthAdjust="spacingAndGlyphs">10 kg</text>
<path d="M250,455.7 H278.8" stroke="#1010F5" stroke-width="1.35"/>
<circle cx="264.4" cy="455.7" r="2.85" fill="#fff" stroke="#1010F5" stroke-width="1.0"/>
<text x="281.8" y="459.9" font-size="10.8" textLength="28.7" lengthAdjust="spacingAndGlyphs">15 kg</text>
<path d="M250,471.5 H278.8" stroke="#1F8C1F" stroke-width="1.35"/>
<polygon points="264.4,467.22 267.8,474.12 261,474.12" fill="#fff" stroke="#1F8C1F" stroke-width="1.0" stroke-linejoin="miter"/>
<text x="281.8" y="475.7" font-size="10.8" textLength="28.7" lengthAdjust="spacingAndGlyphs">20 kg</text>
<path d="M250,487.1 H278.8" stroke="#F8861A" stroke-width="1.35"/>
<polygon points="264.4,491.38 267.8,484.48 261,484.48" fill="#fff" stroke="#F8861A" stroke-width="1.0" stroke-linejoin="miter"/>
<text x="281.8" y="491.3" font-size="10.8" textLength="28.7" lengthAdjust="spacingAndGlyphs">25 kg</text>
<clipPath id="clipd"><rect x="399.5" y="280.8" width="281.1" height="226.6"/></clipPath>
<g clip-path="url(#clipd)">
<path d="M430.34,440.84 C435.55,436.57 440.77,432.3 445.98,422.69 C451.19,413.07 456.41,398.11 461.62,386.38 C466.83,374.65 472.05,366.15 477.26,356.12 C482.47,346.1 487.69,334.56 492.9,331.92 C498.11,329.29 503.33,335.56 508.54,344.02 C513.75,352.48 518.97,363.13 524.18,368.23 C529.39,373.32 534.61,372.86 539.82,374.28 C545.03,375.69 550.25,378.99 555.46,386.38 C560.67,393.77 565.89,405.26 571.1,410.58 C576.31,415.9 581.53,415.05 586.74,416.63 C591.95,418.22 597.17,422.24 602.38,428.74 C607.59,435.24 612.81,444.22 618.02,452.94 C623.23,461.66 628.45,470.13 633.66,471.09 C638.87,472.06 644.09,465.53 649.3,458.99" fill="none" stroke="#F51010" stroke-width="1.35" stroke-linejoin="round"/>
<rect x="427.74" y="438.24" width="5.2" height="5.2" fill="#fff" stroke="#F51010" stroke-width="1.0"/>
<rect x="443.38" y="420.09" width="5.2" height="5.2" fill="#fff" stroke="#F51010" stroke-width="1.0"/>
<rect x="459.02" y="383.78" width="5.2" height="5.2" fill="#fff" stroke="#F51010" stroke-width="1.0"/>
<rect x="474.66" y="353.52" width="5.2" height="5.2" fill="#fff" stroke="#F51010" stroke-width="1.0"/>
<rect x="490.3" y="329.32" width="5.2" height="5.2" fill="#fff" stroke="#F51010" stroke-width="1.0"/>
<rect x="505.94" y="341.42" width="5.2" height="5.2" fill="#fff" stroke="#F51010" stroke-width="1.0"/>
<rect x="521.58" y="365.63" width="5.2" height="5.2" fill="#fff" stroke="#F51010" stroke-width="1.0"/>
<rect x="537.22" y="371.68" width="5.2" height="5.2" fill="#fff" stroke="#F51010" stroke-width="1.0"/>
<rect x="552.86" y="383.78" width="5.2" height="5.2" fill="#fff" stroke="#F51010" stroke-width="1.0"/>
<rect x="568.5" y="407.98" width="5.2" height="5.2" fill="#fff" stroke="#F51010" stroke-width="1.0"/>
<rect x="584.14" y="414.03" width="5.2" height="5.2" fill="#fff" stroke="#F51010" stroke-width="1.0"/>
<rect x="599.78" y="426.14" width="5.2" height="5.2" fill="#fff" stroke="#F51010" stroke-width="1.0"/>
<rect x="615.42" y="450.34" width="5.2" height="5.2" fill="#fff" stroke="#F51010" stroke-width="1.0"/>
<rect x="631.06" y="468.49" width="5.2" height="5.2" fill="#fff" stroke="#F51010" stroke-width="1.0"/>
<rect x="646.7" y="456.39" width="5.2" height="5.2" fill="#fff" stroke="#F51010" stroke-width="1.0"/>
<path d="M430.34,428.74 C435.55,437.25 440.77,445.76 445.98,440.84 C451.19,435.92 456.41,417.57 461.62,398.48 C466.83,379.39 472.05,359.56 477.26,344.02 C482.47,328.49 487.69,317.25 492.9,319.82 C498.11,322.39 503.33,338.76 508.54,331.92 C513.75,325.09 518.97,295.05 524.18,301.67 C529.39,308.28 534.61,351.56 539.82,368.23 C545.03,384.9 550.25,374.96 555.46,380.33 C560.67,385.69 565.89,406.36 571.1,416.63 C576.31,426.91 581.53,426.81 586.74,428.74 C591.95,430.66 597.17,434.62 602.38,434.79 C607.59,434.96 612.81,431.34 618.02,440.84 C623.23,450.34 628.45,472.94 633.66,477.14 C638.87,481.35 644.09,467.14 649.3,452.94" fill="none" stroke="#1010F5" stroke-width="1.35" stroke-linejoin="round"/>
<circle cx="430.34" cy="428.74" r="2.85" fill="#fff" stroke="#1010F5" stroke-width="1.0"/>
<circle cx="445.98" cy="440.84" r="2.85" fill="#fff" stroke="#1010F5" stroke-width="1.0"/>
<circle cx="461.62" cy="398.48" r="2.85" fill="#fff" stroke="#1010F5" stroke-width="1.0"/>
<circle cx="477.26" cy="344.02" r="2.85" fill="#fff" stroke="#1010F5" stroke-width="1.0"/>
<circle cx="492.9" cy="319.82" r="2.85" fill="#fff" stroke="#1010F5" stroke-width="1.0"/>
<circle cx="508.54" cy="331.92" r="2.85" fill="#fff" stroke="#1010F5" stroke-width="1.0"/>
<circle cx="524.18" cy="301.67" r="2.85" fill="#fff" stroke="#1010F5" stroke-width="1.0"/>
<circle cx="539.82" cy="368.23" r="2.85" fill="#fff" stroke="#1010F5" stroke-width="1.0"/>
<circle cx="555.46" cy="380.33" r="2.85" fill="#fff" stroke="#1010F5" stroke-width="1.0"/>
<circle cx="571.1" cy="416.63" r="2.85" fill="#fff" stroke="#1010F5" stroke-width="1.0"/>
<circle cx="586.74" cy="428.74" r="2.85" fill="#fff" stroke="#1010F5" stroke-width="1.0"/>
<circle cx="602.38" cy="434.79" r="2.85" fill="#fff" stroke="#1010F5" stroke-width="1.0"/>
<circle cx="618.02" cy="440.84" r="2.85" fill="#fff" stroke="#1010F5" stroke-width="1.0"/>
<circle cx="633.66" cy="477.14" r="2.85" fill="#fff" stroke="#1010F5" stroke-width="1.0"/>
<circle cx="649.3" cy="452.94" r="2.85" fill="#fff" stroke="#1010F5" stroke-width="1.0"/>
<path d="M430.34,422.69 C435.55,427.43 440.77,432.17 445.98,428.74 C451.19,425.3 456.41,413.68 461.62,398.48 C466.83,383.28 472.05,364.5 477.26,350.07 C482.47,335.65 487.69,325.57 492.9,325.87 C498.11,326.17 503.33,336.85 508.54,337.97 C513.75,339.09 518.97,330.65 524.18,331.92 C529.39,333.19 534.61,344.17 539.82,350.07 C545.03,355.98 550.25,356.82 555.46,374.28 C560.67,391.73 565.89,425.81 571.1,434.79 C576.31,443.77 581.53,427.65 586.74,422.69 C591.95,417.72 597.17,423.91 602.38,428.74 C607.59,433.56 612.81,437.02 618.02,446.89 C623.23,456.76 628.45,473.05 633.66,477.14 C638.87,481.24 644.09,473.14 649.3,465.04" fill="none" stroke="#1F8C1F" stroke-width="1.35" stroke-linejoin="round"/>
<polygon points="430.34,418.41 433.74,425.31 426.94,425.31" fill="#fff" stroke="#1F8C1F" stroke-width="1.0" stroke-linejoin="miter"/>
<polygon points="445.98,424.46 449.38,431.36 442.58,431.36" fill="#fff" stroke="#1F8C1F" stroke-width="1.0" stroke-linejoin="miter"/>
<polygon points="461.62,394.2 465.02,401.1 458.22,401.1" fill="#fff" stroke="#1F8C1F" stroke-width="1.0" stroke-linejoin="miter"/>
<polygon points="477.26,345.8 480.66,352.7 473.86,352.7" fill="#fff" stroke="#1F8C1F" stroke-width="1.0" stroke-linejoin="miter"/>
<polygon points="492.9,321.59 496.3,328.49 489.5,328.49" fill="#fff" stroke="#1F8C1F" stroke-width="1.0" stroke-linejoin="miter"/>
<polygon points="508.54,333.69 511.94,340.59 505.14,340.59" fill="#fff" stroke="#1F8C1F" stroke-width="1.0" stroke-linejoin="miter"/>
<polygon points="524.18,327.64 527.58,334.54 520.78,334.54" fill="#fff" stroke="#1F8C1F" stroke-width="1.0" stroke-linejoin="miter"/>
<polygon points="539.82,345.8 543.22,352.7 536.42,352.7" fill="#fff" stroke="#1F8C1F" stroke-width="1.0" stroke-linejoin="miter"/>
<polygon points="555.46,370 558.86,376.9 552.06,376.9" fill="#fff" stroke="#1F8C1F" stroke-width="1.0" stroke-linejoin="miter"/>
<polygon points="571.1,430.51 574.5,437.41 567.7,437.41" fill="#fff" stroke="#1F8C1F" stroke-width="1.0" stroke-linejoin="miter"/>
<polygon points="586.74,418.41 590.14,425.31 583.34,425.31" fill="#fff" stroke="#1F8C1F" stroke-width="1.0" stroke-linejoin="miter"/>
<polygon points="602.38,424.46 605.78,431.36 598.98,431.36" fill="#fff" stroke="#1F8C1F" stroke-width="1.0" stroke-linejoin="miter"/>
<polygon points="618.02,442.61 621.42,449.51 614.62,449.51" fill="#fff" stroke="#1F8C1F" stroke-width="1.0" stroke-linejoin="miter"/>
<polygon points="633.66,472.87 637.06,479.77 630.26,479.77" fill="#fff" stroke="#1F8C1F" stroke-width="1.0" stroke-linejoin="miter"/>
<polygon points="649.3,460.76 652.7,467.67 645.9,467.67" fill="#fff" stroke="#1F8C1F" stroke-width="1.0" stroke-linejoin="miter"/>
<path d="M430.34,452.94 C435.55,440.68 440.77,428.42 445.98,422.69 C451.19,416.96 456.41,417.76 461.62,404.53 C466.83,391.31 472.05,364.05 477.26,350.07 C482.47,336.1 487.69,335.4 492.9,331.92 C498.11,328.44 503.33,322.19 508.54,319.82 C513.75,317.45 518.97,318.97 524.18,325.87 C529.39,332.77 534.61,345.06 539.82,356.12 C545.03,367.19 550.25,377.03 555.46,392.43 C560.67,407.83 565.89,428.79 571.1,428.74 C576.31,428.68 581.53,407.61 586.74,404.53 C591.95,401.46 597.17,416.38 602.38,422.69 C607.59,428.99 612.81,426.66 618.02,440.84 C623.23,455.01 628.45,485.69 633.66,490.46 C638.87,495.22 644.09,474.08 649.3,452.94" fill="none" stroke="#F8861A" stroke-width="1.35" stroke-linejoin="round"/>
<polygon points="430.34,457.22 433.74,450.32 426.94,450.32" fill="#fff" stroke="#F8861A" stroke-width="1.0" stroke-linejoin="miter"/>
<polygon points="445.98,426.96 449.38,420.06 442.58,420.06" fill="#fff" stroke="#F8861A" stroke-width="1.0" stroke-linejoin="miter"/>
<polygon points="461.62,408.81 465.02,401.91 458.22,401.91" fill="#fff" stroke="#F8861A" stroke-width="1.0" stroke-linejoin="miter"/>
<polygon points="477.26,354.35 480.66,347.45 473.86,347.45" fill="#fff" stroke="#F8861A" stroke-width="1.0" stroke-linejoin="miter"/>
<polygon points="492.9,336.2 496.3,329.3 489.5,329.3" fill="#fff" stroke="#F8861A" stroke-width="1.0" stroke-linejoin="miter"/>
<polygon points="508.54,324.1 511.94,317.2 505.14,317.2" fill="#fff" stroke="#F8861A" stroke-width="1.0" stroke-linejoin="miter"/>
<polygon points="524.18,330.15 527.58,323.25 520.78,323.25" fill="#fff" stroke="#F8861A" stroke-width="1.0" stroke-linejoin="miter"/>
<polygon points="539.82,360.4 543.22,353.5 536.42,353.5" fill="#fff" stroke="#F8861A" stroke-width="1.0" stroke-linejoin="miter"/>
<polygon points="555.46,396.71 558.86,389.81 552.06,389.81" fill="#fff" stroke="#F8861A" stroke-width="1.0" stroke-linejoin="miter"/>
<polygon points="571.1,433.01 574.5,426.11 567.7,426.11" fill="#fff" stroke="#F8861A" stroke-width="1.0" stroke-linejoin="miter"/>
<polygon points="586.74,408.81 590.14,401.91 583.34,401.91" fill="#fff" stroke="#F8861A" stroke-width="1.0" stroke-linejoin="miter"/>
<polygon points="602.38,426.96 605.78,420.06 598.98,420.06" fill="#fff" stroke="#F8861A" stroke-width="1.0" stroke-linejoin="miter"/>
<polygon points="618.02,445.12 621.42,438.22 614.62,438.22" fill="#fff" stroke="#F8861A" stroke-width="1.0" stroke-linejoin="miter"/>
<polygon points="633.66,494.74 637.06,487.84 630.26,487.84" fill="#fff" stroke="#F8861A" stroke-width="1.0" stroke-linejoin="miter"/>
<polygon points="649.3,457.22 652.7,450.32 645.9,450.32" fill="#fff" stroke="#F8861A" stroke-width="1.0" stroke-linejoin="miter"/>
</g>
<rect x="399.5" y="280.8" width="281.1" height="226.6" fill="none" stroke="#111" stroke-width="1.35"/>
<path d="M399.06,507.4 v2.3 M414.7,507.4 v4.2 M414.7,280.8 v4 M430.34,507.4 v2.3 M430.34,280.8 v2.2 M445.98,507.4 v4.2 M445.98,280.8 v4 M461.62,507.4 v2.3 M461.62,280.8 v2.2 M477.26,507.4 v4.2 M477.26,280.8 v4 M492.9,507.4 v2.3 M492.9,280.8 v2.2 M508.54,507.4 v4.2 M508.54,280.8 v4 M524.18,507.4 v2.3 M524.18,280.8 v2.2 M539.82,507.4 v4.2 M539.82,280.8 v4 M555.46,507.4 v2.3 M555.46,280.8 v2.2 M571.1,507.4 v4.2 M571.1,280.8 v4 M586.74,507.4 v2.3 M586.74,280.8 v2.2 M602.38,507.4 v4.2 M602.38,280.8 v4 M618.02,507.4 v2.3 M618.02,280.8 v2.2 M633.66,507.4 v4.2 M633.66,280.8 v4 M649.3,507.4 v2.3 M649.3,280.8 v2.2 M664.94,507.4 v4.2 M664.94,280.8 v4 M680.58,507.4 v2.3 M399.5,507.4 h-4.2 M399.5,492.27 h-2.3 M680.6,492.27 h-2 M399.5,477.14 h-4.2 M680.6,477.14 h-4 M399.5,462.02 h-2.3 M680.6,462.02 h-2 M399.5,446.89 h-4.2 M680.6,446.89 h-4 M399.5,431.76 h-2.3 M680.6,431.76 h-2 M399.5,416.63 h-4.2 M680.6,416.63 h-4 M399.5,401.51 h-2.3 M680.6,401.51 h-2 M399.5,386.38 h-4.2 M680.6,386.38 h-4 M399.5,371.25 h-2.3 M680.6,371.25 h-2 M399.5,356.12 h-4.2 M680.6,356.12 h-4 M399.5,341 h-2.3 M680.6,341 h-2 M399.5,325.87 h-4.2 M680.6,325.87 h-4 M399.5,310.74 h-2.3 M680.6,310.74 h-2 M399.5,295.62 h-4.2 M680.6,295.62 h-4 M399.5,280.49 h-2.3" stroke="#111" stroke-width="1.1" fill="none"/>
<text x="414.7" y="521" font-size="8.9" text-anchor="middle">8</text>
<text x="445.98" y="521" font-size="8.9" text-anchor="middle">10</text>
<text x="477.26" y="521" font-size="8.9" text-anchor="middle">12</text>
<text x="508.54" y="521" font-size="8.9" text-anchor="middle">14</text>
<text x="539.82" y="521" font-size="8.9" text-anchor="middle">16</text>
<text x="571.1" y="521" font-size="8.9" text-anchor="middle">18</text>
<text x="602.38" y="521" font-size="8.9" text-anchor="middle">20</text>
<text x="633.66" y="521" font-size="8.9" text-anchor="middle">22</text>
<text x="664.94" y="521" font-size="8.9" text-anchor="middle">24</text>
<text x="392" y="509.46" font-size="8.9" text-anchor="end">0.5</text>
<text x="392" y="479.2" font-size="8.9" text-anchor="end">1.0</text>
<text x="392" y="448.95" font-size="8.9" text-anchor="end">1.5</text>
<text x="392" y="418.69" font-size="8.9" text-anchor="end">2.0</text>
<text x="392" y="388.44" font-size="8.9" text-anchor="end">2.5</text>
<text x="392" y="358.18" font-size="8.9" text-anchor="end">3.0</text>
<text x="392" y="327.93" font-size="8.9" text-anchor="end">3.5</text>
<text x="392" y="297.67" font-size="8.9" text-anchor="end">4.0</text>
<text x="489.7" y="542.1" font-size="10.1" textLength="101.9" lengthAdjust="spacingAndGlyphs">Time of day (Hours)</text>
<text transform="translate(374.8,443.8) rotate(-90)" x="-0.6" y="0" font-size="10.8" textLength="99.7" lengthAdjust="spacingAndGlyphs">Wind velocity (m/s)</text>
<text x="412.3" y="310.6" font-size="18.2" style="stroke-width:0.45px" textLength="23.3" lengthAdjust="spacingAndGlyphs">(d)</text>
<path d="M599.6,304.4 H628.8" stroke="#F51010" stroke-width="1.35"/>
<rect x="611.8" y="301.8" width="5.2" height="5.2" fill="#fff" stroke="#F51010" stroke-width="1.0"/>
<text x="631.8" y="308.9" font-size="10.8" textLength="28.7" lengthAdjust="spacingAndGlyphs">10 kg</text>
<path d="M599.6,320.2 H628.8" stroke="#1010F5" stroke-width="1.35"/>
<circle cx="614.4" cy="320.2" r="2.85" fill="#fff" stroke="#1010F5" stroke-width="1.0"/>
<text x="631.8" y="324.7" font-size="10.8" textLength="28.7" lengthAdjust="spacingAndGlyphs">15 kg</text>
<path d="M599.6,335.6 H628.8" stroke="#1F8C1F" stroke-width="1.35"/>
<polygon points="614.4,331.32 617.8,338.22 611,338.22" fill="#fff" stroke="#1F8C1F" stroke-width="1.0" stroke-linejoin="miter"/>
<text x="631.8" y="340.1" font-size="10.8" textLength="28.7" lengthAdjust="spacingAndGlyphs">20 kg</text>
<path d="M599.6,351.4 H628.8" stroke="#F8861A" stroke-width="1.35"/>
<polygon points="614.4,355.68 617.8,348.78 611,348.78" fill="#fff" stroke="#F8861A" stroke-width="1.0" stroke-linejoin="miter"/>
<text x="631.8" y="355.9" font-size="10.8" textLength="28.7" lengthAdjust="spacingAndGlyphs">25 kg</text>
</svg>
</body></html>
